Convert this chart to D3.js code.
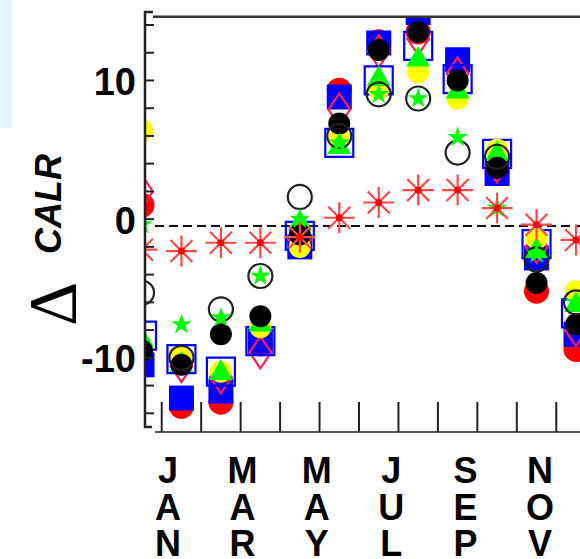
<!DOCTYPE html>
<html lang="en">
<head>
<meta charset="UTF-8">
<title>Delta CALR</title>
<script src="https://d3js.org/d3.v7.min.js"></script>
<style>
  body { margin: 0; background: #fff; }
  svg text { font-family: "Liberation Sans", Arial, sans-serif; font-weight: bold; fill: #000; }
</style>
</head>
<body>
<div id="chart"></div>
<script>
// month labels under the axis (every second month)
var months = ["JAN", "MAR", "MAY", "JUL", "SEP", "NOV"];
var yLabels = [10, 0, -10];
var yMinor = [-14, -12, -10, -8, -6, -4, -2, 0, 2, 4, 6, 8, 10, 12, 14];
var refLine = -0.5;

// one value per column (12 columns, first one half hidden by the axis)
var redCircle   = [1.0, -13.5, -13.2, -9.0, -1.6, 9.3, 12.8, 13.5, 11.2, 3.4, -5.2, -9.4];
var blueSquare  = [-10.5, -12.9, -12.4, -8.8, -2.0, 8.8, 12.7, 14.9, 11.5, 3.3, -2.8, -8.3];
var redDiamond  = [2.0, -10.6, -11.4, -9.6, -1.5, 7.9, 12.1, 13.0, 10.5, 3.8, -2.0, -8.0];
var blueOpen    = [-8.4, -10.1, -11.0, -8.8, -1.2, 5.5, 10.0, 12.5, 10.1, 4.7, -1.8, -6.8];
var yellowDot   = [6.4, -10.0, -11.0, -7.8, -2.0, 5.8, 9.4, 10.6, 8.7, 5.0, -1.4, -5.2];
var greenTri    = [-8.7, -10.5, -11.1, -7.6, -0.3, 5.2, 10.1, 11.5, 9.2, 4.7, -2.3, -6.2];
var blackDot    = [-9.5, -10.5, -8.3, -7.0, -1.1, 6.9, 12.2, 13.5, 10.0, 3.7, -4.6, -7.6];
var blackRing   = [-5.3, -10.0, -6.5, -4.1, 1.6, 6.0, 9.0, 8.7, 4.8, 4.5, -2.9, -6.0];
var greenStar   = [-0.4, -7.6, -7.1, -4.1, 0.0, 5.5, 9.0, 8.7, 5.9, 0.8, -2.5, -6.0];
var redAsterisk = [-2.2, -2.3, -1.7, -1.7, -1.3, 0.1, 1.2, 2.1, 2.1, 0.8, -0.4, -1.5];

var W = 580, H = 559;
var svg = d3.select("#chart").append("svg").attr("width", W).attr("height", H);

var x = d3.scaleLinear().domain([0, 11]).range([142, 576]);
var y = d3.scaleLinear().domain([-14, 14]).range([413.3, 25]);
var xLab = d3.scalePoint().domain(months).range([168, 540]);

var axisLeft = 145, frameTop = 16.7, frameBottom = 432;

// little light blue strip in the corner
svg.append("rect").attr("x", 0).attr("y", 0).attr("width", 12).attr("height", 128).attr("fill", "#e6f2fc");

svg.append("defs").append("clipPath").attr("id", "plotclip")
  .append("rect").attr("x", axisLeft + 1).attr("y", frameTop + 1)
  .attr("width", W - axisLeft).attr("height", frameBottom - frameTop);

// dashed reference line
svg.append("line")
  .attr("x1", 155).attr("x2", W)
  .attr("y1", y(refLine)).attr("y2", y(refLine))
  .attr("stroke", "#111").attr("stroke-width", 2).attr("stroke-dasharray", "9,5");

var series = [
  {values: redCircle,   shape: "circle",   r: 12.5, fill: "#ff0000"},
  {values: blueSquare,  shape: "square",   r: 12.5, fill: "#0000ff"},
  {values: redDiamond,  shape: "diamond",  r: 16,   stroke: "#ff2050"},
  {values: blueOpen,    shape: "square",   r: 14,   stroke: "#0000ff"},
  {values: yellowDot,   shape: "circle",   r: 11,   fill: "#ffff00"},
  {values: greenTri,    shape: "triangle", r: 12,   fill: "#00ff00"},
  {values: blackDot,    shape: "circle",   r: 11,   fill: "#000000"},
  {values: blackRing,   shape: "circle",   r: 12,   stroke: "#222"},
  {values: greenStar,   shape: "star",     r: 11,   fill: "#00ff00"},
  {values: redAsterisk, shape: "asterisk", r: 15.5, stroke: "#ff4a4a"}
];

var symbolFor = {
  circle: function(r) { return d3.symbol(d3.symbolCircle, Math.PI * r * r)(); },
  square: function(r) { return d3.symbol(d3.symbolSquare, 4 * r * r)(); },
  triangle: function(r) { return d3.symbol(d3.symbolTriangle, r * r * 1.7)(); },
  star: function(r) { return d3.symbol(d3.symbolStar, r * r * 1.1)(); },
  diamond: function(r) {
    var p = d3.path();
    p.moveTo(0, -r); p.lineTo(r * 0.68, 0); p.lineTo(0, r); p.lineTo(-r * 0.68, 0); p.closePath();
    return p.toString();
  },
  asterisk: function(r) {
    var p = d3.path();
    for (var k = 0; k < 4; k++) {
      var a = k * Math.PI / 4;
      p.moveTo(-r * Math.cos(a), -r * Math.sin(a));
      p.lineTo(r * Math.cos(a), r * Math.sin(a));
    }
    return p.toString();
  }
};

var plot = svg.append("g").attr("clip-path", "url(#plotclip)");

series.forEach(function(s) {
  var g = plot.append("g");
  g.selectAll("path").data(s.values).enter().append("path")
    .attr("transform", function(d, i) { return "translate(" + x(i) + "," + y(d) + ")"; })
    .attr("d", symbolFor[s.shape](s.r))
    .attr("fill", s.fill || "none")
    .attr("stroke", s.stroke || "none")
    .attr("stroke-width", 2.2);
  if (s.shape == "asterisk") {
    g.selectAll("circle").data(s.values).enter().append("circle")
      .attr("cx", function(d, i) { return x(i); })
      .attr("cy", function(d) { return y(d); })
      .attr("r", 3.5).attr("fill", "#ff0000");
  }
});

// frame: left axis with small hooks, top line, bottom line
svg.append("path")
  .attr("d", "M153,12H" + axisLeft + "V427H152")
  .attr("fill", "none").attr("stroke", "#222").attr("stroke-width", 2.5);
svg.append("line").attr("x1", 153).attr("x2", W).attr("y1", frameTop).attr("y2", frameTop)
  .attr("stroke", "#333").attr("stroke-width", 2.5);
svg.append("line").attr("x1", 155).attr("x2", W).attr("y1", frameBottom).attr("y2", frameBottom)
  .attr("stroke", "#555").attr("stroke-width", 2);

// y ticks pointing inwards
svg.append("g").selectAll("line").data(yMinor).enter().append("line")
  .attr("x1", axisLeft).attr("x2", 154)
  .attr("y1", function(d) { return y(d); }).attr("y2", function(d) { return y(d); })
  .attr("stroke", "#222").attr("stroke-width", 2);

svg.append("g").selectAll("text").data(yLabels).enter().append("text")
  .attr("x", 136).attr("y", function(d) { return y(d); })
  .attr("dy", "0.38em")
  .attr("text-anchor", "end")
  .style("font-size", "38px")
  .text(function(d) { return d; });

// x ticks between the columns
svg.append("g").selectAll("line").data(d3.range(0.5, 11, 1)).enter().append("line")
  .attr("x1", function(d) { return x(d); }).attr("x2", function(d) { return x(d); })
  .attr("y1", 402).attr("y2", frameBottom)
  .attr("stroke", "#222").attr("stroke-width", 2);

// stacked month labels
var lab = svg.append("g").selectAll("g").data(months).enter().append("g")
  .attr("transform", function(d) { return "translate(" + xLab(d) + ",0)"; });
lab.selectAll("text").data(function(d) { return d.split(""); }).enter().append("text")
  .attr("x", 0).attr("y", function(d, i) { return 483 + i * 36.5; })
  .attr("text-anchor", "middle")
  .style("font-size", "36px")
  .text(function(d) { return d; });

// y axis title
svg.append("text")
  .attr("transform", "translate(61,204) rotate(-90)")
  .attr("text-anchor", "middle")
  .style("font-size", "36px").style("font-style", "italic")
  .text("CALR");
svg.append("text")
  .attr("transform", "translate(75,304) rotate(-90)")
  .attr("text-anchor", "middle")
  .style("font-family", "'Liberation Serif', serif")
  .style("font-weight", "normal")
  .style("font-size", "68px")
  .text("\u0394");
</script>
</body>
</html>
